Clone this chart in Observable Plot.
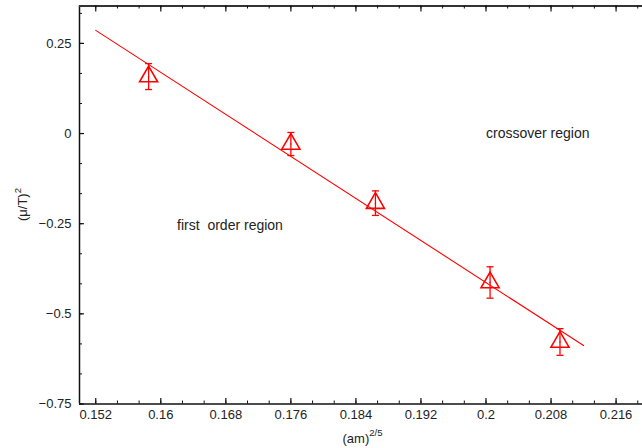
<!DOCTYPE html>
<html>
<head>
<meta charset="utf-8">
<script src="https://cdn.jsdelivr.net/npm/d3@7"></script>
<script src="https://cdn.jsdelivr.net/npm/@observablehq/plot@0.6"></script>
<style>
  html, body { margin: 0; padding: 0; background: #fff; }
  #chart { width: 642px; height: 448px; }
</style>
</head>
<body>
<div id="chart"></div>
<script>
// ---- data ----
const xTicks = [0.152, 0.16, 0.168, 0.176, 0.184, 0.192, 0.2, 0.208, 0.216];
const yTicks = [0.25, 0, -0.25, -0.5, -0.75];
const pointX = [0.1585, 0.1760, 0.1864, 0.2005, 0.2091];
const pointY = [0.158, -0.029, -0.193, -0.413, -0.578];
const pointErr = [0.036, 0.032, 0.034, 0.0435, 0.037];
const fitX = [0.152, 0.212];
const fitY = [0.286, -0.588];
const noteText = ["crossover region", "first  order region"];
const noteX = [0.2000, 0.1620];
const noteY = [0.0, -0.254];

const xDomain = [0.15, 0.21925];
const yDomain = [-0.75, 0.3537];

// minor ticks: thirds between major ticks
const xStep = (xTicks[1] - xTicks[0]) / 3;
const xMinor = [];
for (let v = xTicks[0]; v <= xDomain[1] + 1e-9; v += xStep) xMinor.push(v);
const yStep = (yTicks[0] - yTicks[1]) / 3;
const yMinor = [];
for (let v = yTicks[yTicks.length - 1]; v <= yDomain[1] + 1e-9; v += yStep) yMinor.push(v);

const idx = pointX.map((_, i) => i);
const fit = fitX.map((x, i) => ({x, y: fitY[i]}));
const notes = noteText.map((t, i) => ({t, x: noteX[i], y: noteY[i]}));

const W = 642, H = 448;
const mL = 79, mR = 0, mT = 5.5, mB = 44.5;
const plotH = H - mT - mB, plotW = W - mL - mR;

const capSymbol = {
  draw(context, size) {
    const r = Math.sqrt(size / Math.PI);
    context.moveTo(-r, 0);
    context.lineTo(r, 0);
  }
};

const fmtX = d => String(+d.toFixed(3));
const fmtY = d => (d < 0 ? "\u2212" : "") + String(+Math.abs(d).toFixed(2));
const font = "'Liberation Sans', Arial, Helvetica, sans-serif";

const chart = Plot.plot({
  width: W, height: H,
  marginLeft: mL, marginRight: mR, marginTop: mT, marginBottom: mB,
  x: {domain: xDomain},
  y: {domain: yDomain},
  style: {fontFamily: font, fontSize: "13px", color: "#222", background: "#fff"},
  marks: [
    // frame lines (left, bottom, top)
    Plot.ruleX([xDomain[0]], {stroke: "#111", strokeWidth: 1.5}),
    Plot.ruleY([yDomain[0]], {stroke: "#111", strokeWidth: 1.5}),
    Plot.ruleY([yDomain[1]], {stroke: "#333", strokeWidth: 1.8}),
    // ticks pointing inward
    Plot.tickX(xTicks, {x: d => d, insetTop: plotH - 5.5, stroke: "#111", strokeWidth: 1.2}),
    Plot.tickX(xMinor, {x: d => d, insetTop: plotH - 3, stroke: "#111", strokeWidth: 1}),
    Plot.tickX(xTicks, {x: d => d, insetBottom: plotH - 6, stroke: "#111", strokeWidth: 1.2}),
    Plot.tickX(xMinor, {x: d => d, insetBottom: plotH - 3, stroke: "#111", strokeWidth: 1}),
    Plot.tickY(yTicks, {y: d => d, insetRight: plotW - 5, stroke: "#111", strokeWidth: 1.2}),
    Plot.tickY(yMinor, {y: d => d, insetRight: plotW - 3, stroke: "#111", strokeWidth: 1}),
    // tick labels
    Plot.axisX(xTicks, {tickSize: 0, tickPadding: 6, tickFormat: fmtX, label: null, fontSize: 13, fill: "#222"}),
    Plot.axisY(yTicks, {tickSize: 0, tickPadding: 8, tickFormat: fmtY, label: null, fontSize: 13, fill: "#222"}),
    // fit line
    Plot.line(fit, {x: "x", y: "y", stroke: "red", strokeWidth: 1.1}),
    // error bars
    Plot.ruleX(idx, {x: i => pointX[i], y1: i => pointY[i] - pointErr[i], y2: i => pointY[i] + pointErr[i], stroke: "red", strokeWidth: 1.3}),
    Plot.dot(idx, {x: i => pointX[i], y: i => pointY[i] + pointErr[i], symbol: capSymbol, r: 3.5, stroke: "red", strokeWidth: 1.3}),
    Plot.dot(idx, {x: i => pointX[i], y: i => pointY[i] - pointErr[i], symbol: capSymbol, r: 3.5, stroke: "red", strokeWidth: 1.3}),
    // triangle markers
    Plot.dot(idx, {x: i => pointX[i], y: i => pointY[i], symbol: "triangle", r: 6.7, stroke: "red", strokeWidth: 1.6, fill: "none"}),
    Plot.dot(idx, {x: i => pointX[i], y: i => pointY[i], r: 0.7, fill: "red", stroke: "none"}),
    // annotations
    Plot.text(notes, {x: "x", y: "y", text: "t", textAnchor: "start", fontSize: 14, fill: "#222"})
  ]
});

const svg = d3.select(chart);
// y axis label (μ/T)^2
const yl = svg.append("text")
  .attr("transform", `translate(27,${mT + plotH / 2}) rotate(-90)`)
  .attr("text-anchor", "middle")
  .attr("font-family", font)
  .attr("font-size", 13)
  .attr("fill", "#222");
yl.append("tspan").text("(\u03bc/T)");
yl.append("tspan").attr("dy", -6).attr("font-size", 9.5).text("2");
// x axis label (am)^{2/5}
const xl = svg.append("text")
  .attr("x", mL + (W - mR - mL) / 2 + 2)
  .attr("y", 443)
  .attr("text-anchor", "middle")
  .attr("font-family", font)
  .attr("font-size", 13)
  .attr("fill", "#222");
xl.append("tspan").text("(am)");
xl.append("tspan").attr("dy", -7).attr("font-size", 9.5).text("2/5");

document.getElementById("chart").appendChild(chart);
</script>
</body>
</html>
